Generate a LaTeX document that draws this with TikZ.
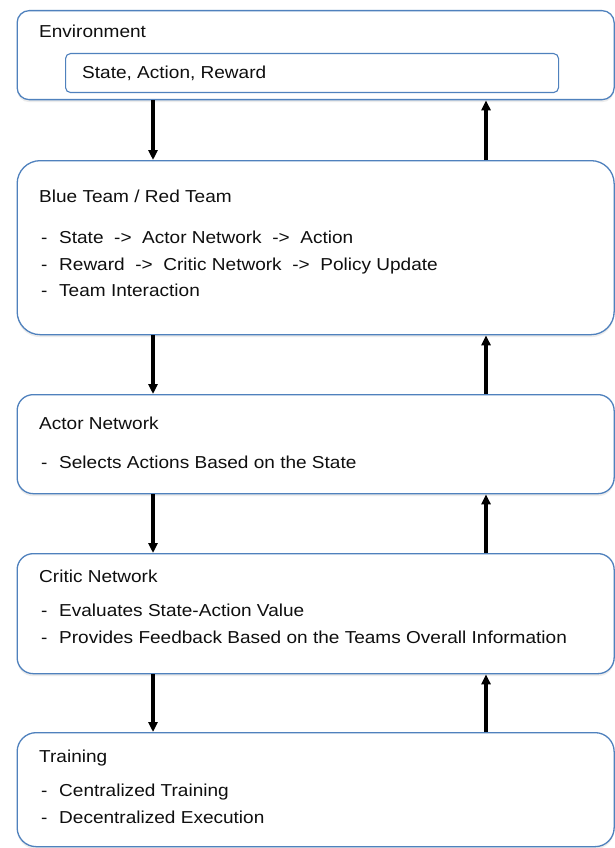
\documentclass[tikz,border=0pt]{standalone}
\usepackage{fontspec}
\setmainfont{Liberation Sans}[FakeStretch=1.1]
\usetikzlibrary{arrows.meta,shadows}
\definecolor{boxBlue}{RGB}{79,129,189}
\definecolor{txtBlack}{RGB}{15,15,15}
\newcommand{\itm}[1]{\makebox[18pt][l]{-}#1}

\begin{document}
\begin{tikzpicture}[x=1pt,y=-1pt,font=\fontsize{17.3}{26.5}\selectfont,text=txtBlack,
 box/.style={draw=boxBlue,line width=1.3pt,fill=white,anchor=north west,minimum width=597pt,inner sep=0pt,
  drop shadow={shadow xshift=0pt,shadow yshift=-2.5pt,opacity=.15}},
 inbox/.style={draw=boxBlue,line width=1.1pt,fill=white,rounded corners=5pt,anchor=north west,inner sep=0pt},
 title/.style={anchor=west,inner sep=0pt},
 items/.style={anchor=north west,align=left,inner sep=0pt},
 arr/.style={-{Triangle[length=10pt,width=9pt]},line width=3.4pt,black}]
\path[use as bounding box,fill=white] (0,0) rectangle (615,848);
\coordinate (l) at (153,0);
\coordinate (r) at (486,0);
% boxes
\node[box,rounded corners=12pt,minimum height=89pt] (env) at (16.5,10) {};
\node[inbox,minimum width=493pt,minimum height=39pt] (state) at (65,53) {};
\node[box,rounded corners=23pt,minimum height=174pt] (team) at (16.5,160) {};
\node[box,rounded corners=16pt,minimum height=99pt] (actor) at (16.5,394) {};
\node[box,rounded corners=16pt,minimum height=120pt] (critic) at (16.5,553) {};
\node[box,rounded corners=19pt,minimum height=114pt] (train) at (16.5,732) {};
% texts
\node[title] (envT) at (39,31) {Environment};
\node[title] (stateT) at (82,73) {State, Action, Reward};
\node[title] (teamT) at (39,196) {Blue Team / Red Team};
\node[items] (teamL) at (41,231) {\itm{State~~->~~Actor Network~~->~~Action}\\
 \itm{Reward~~->~~Critic Network~~->~~Policy Update}\\
 \itm{Team Interaction}};
\node[title] (actorT) at (39,423) {Actor Network};
\node[title] (actorL) at (41,462) {\itm{Selects Actions Based on the State}};
\node[title] (criticT) at (39,576) {Critic Network};
\node[items] (criticL) at (41,604) {\itm{Evaluates State-Action Value}\\
 \itm{Provides Feedback Based on the Teams Overall Information}};
\node[title] (trainT) at (39,758) {Training};
\node[items] (trainL) at (41,784) {\itm{Centralized Training}\\
 \itm{Decentralized Execution}};
% arrows
\draw[arr] (env.south -| l) -- (team.north -| l);
\draw[arr] (team.north -| r) -- (env.south -| r);
\draw[arr] (team.south -| l) -- (actor.north -| l);
\draw[arr] (actor.north -| r) -- (team.south -| r);
\draw[arr] (actor.south -| l) -- (critic.north -| l);
\draw[arr] (critic.north -| r) -- (actor.south -| r);
\draw[arr] (critic.south -| l) -- (train.north -| l);
\draw[arr] (train.north -| r) -- (critic.south -| r);
\end{tikzpicture}
\end{document}
